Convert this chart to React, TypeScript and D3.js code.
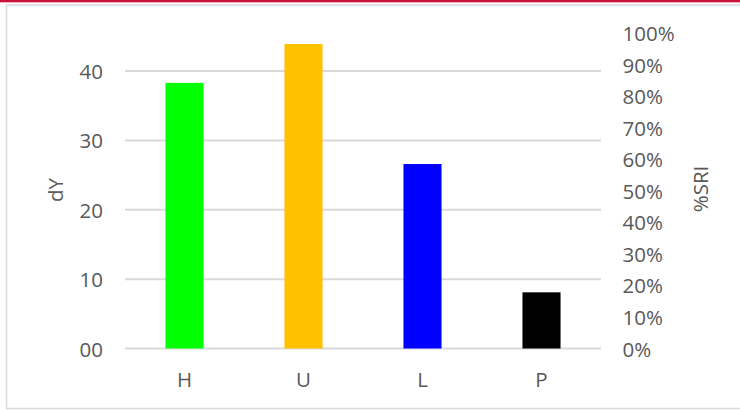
import React from "react";
import * as d3 from "d3";

const categories = ["H", "U", "L", "P"];
const values = [38.3, 43.9, 26.6, 8.1];
const barColors = ["#00ff00", "#ffc000", "#0000ff", "#000000"];
const leftTicks = [0, 10, 20, 30, 40];
const leftTickLabels = ["00", "10", "20", "30", "40"];
const rightTicks = [0, 0.1, 0.2, 0.3, 0.4, 0.5, 0.6, 0.7, 0.8, 0.9, 1.0];
const leftTitle = "dY";
const rightTitle = "%SRI";

const W = 740;
const H = 410;
const plot = { left: 125, right: 601, top: 33.3, bottom: 348.5 };
const font = "'Open Sans', 'DejaVu Sans', sans-serif";
const textColor = "#595959";

export default function App() {
  const x = d3
    .scaleBand<string>()
    .domain(categories)
    .range([plot.left, plot.right])
    .paddingInner(0.68)
    .paddingOuter(0.34);
  const y = d3.scaleLinear().domain([0, 45.45]).range([plot.bottom, plot.top]);
  const yR = d3.scaleLinear().domain([0, 1]).range([plot.bottom, plot.top]);
  const pct = d3.format(".0%");

  return (
    <div style={{ position: "absolute", left: 0, top: 0 }}>
      <svg width={W} height={H} style={{ display: "block" }}>
        <rect x={0} y={0} width={W} height={H} fill="#ffffff" />
        <rect x={6.5} y={5} width={W + 10} height={403.5} fill="none" stroke="#d9d9d9" strokeWidth={1.5} />
        <rect x={0} y={0} width={W} height={2.3} fill="#c8103c" />
        {leftTicks.map((t) => (
          <line
            key={"g" + t}
            x1={plot.left}
            x2={plot.right}
            y1={y(t)}
            y2={y(t)}
            stroke="#d9d9d9"
            strokeWidth={2}
          />
        ))}
        {categories.map((c, i) => (
          <rect
            key={c}
            x={x(c)}
            y={y(values[i])}
            width={x.bandwidth()}
            height={y(0) - y(values[i])}
            fill={barColors[i]}
          />
        ))}
        {leftTicks.map((t, i) => (
          <text
            key={"l" + t}
            x={103}
            y={y(t)}
            textAnchor="end"
            dominantBaseline="central"
            fontFamily={font}
            fontSize={20.5}
            fill={textColor}
          >
            {leftTickLabels[i]}
          </text>
        ))}
        {rightTicks.map((t) => (
          <text
            key={"r" + t}
            x={622.5}
            y={yR(t)}
            textAnchor="start"
            dominantBaseline="central"
            fontFamily={font}
            fontSize={20.5}
            fill={textColor}
          >
            {pct(t)}
          </text>
        ))}
        {categories.map((c) => (
          <text
            key={"c" + c}
            x={(x(c) as number) + x.bandwidth() / 2}
            y={379}
            textAnchor="middle"
            dominantBaseline="central"
            fontFamily={font}
            fontSize={20.5}
            fill={textColor}
          >
            {c}
          </text>
        ))}
        <text
          transform={`translate(55,190) rotate(-90)`}
          textAnchor="middle"
          dominantBaseline="central"
          fontFamily={font}
          fontSize={20.5}
          fill={textColor}
        >
          {leftTitle}
        </text>
        <text
          transform={`translate(700,189) rotate(-90)`}
          textAnchor="middle"
          dominantBaseline="central"
          fontFamily={font}
          fontSize={20.5}
          fill={textColor}
        >
          {rightTitle}
        </text>
      </svg>
    </div>
  );
}
